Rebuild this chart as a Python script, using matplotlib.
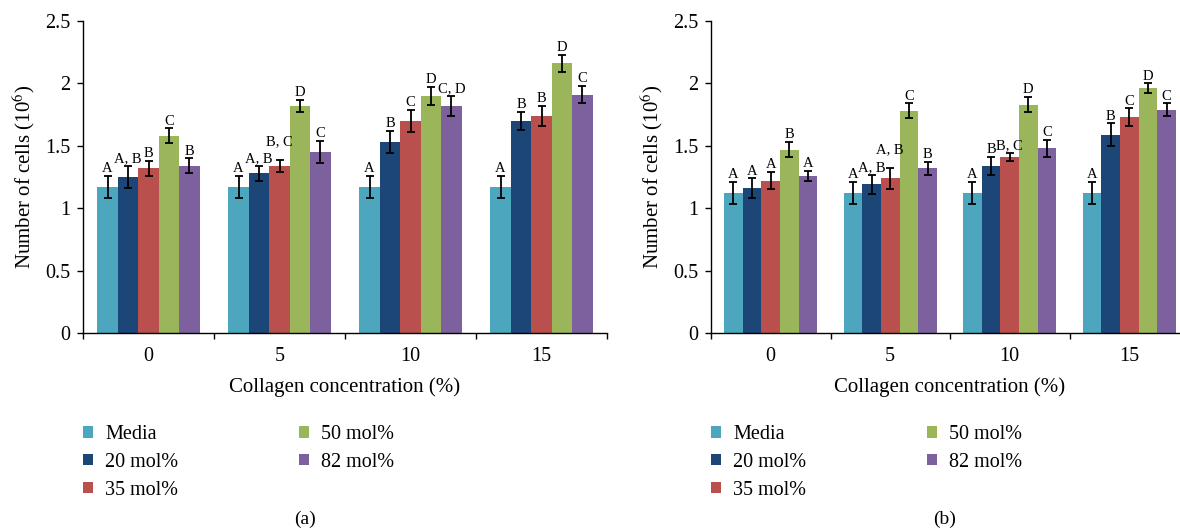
import numpy as np
import matplotlib
matplotlib.use("Agg")
import matplotlib.pyplot as plt

plt.rcParams["font.family"] = ["Liberation Serif", "DejaVu Serif"]
plt.rcParams["mathtext.fontset"] = "stix"

concentrations = ["0", "5", "10", "15"]
series = ["Media", "20 mol%", "35 mol%", "50 mol%", "82 mol%"]
colors = ["#4BA6BE", "#1C4678", "#B9504D", "#9BB65A", "#7D609E"]

# panel (a): one list per series, one value per collagen concentration
vals_a_media = [1.17, 1.17, 1.17, 1.17]
vals_a_20 = [1.25, 1.28, 1.53, 1.70]
vals_a_35 = [1.32, 1.34, 1.70, 1.74]
vals_a_50 = [1.58, 1.82, 1.90, 2.16]
vals_a_82 = [1.34, 1.45, 1.82, 1.91]
err_a_media = [0.09, 0.09, 0.09, 0.09]
err_a_20 = [0.09, 0.06, 0.09, 0.07]
err_a_35 = [0.06, 0.05, 0.09, 0.08]
err_a_50 = [0.06, 0.05, 0.07, 0.07]
err_a_82 = [0.06, 0.09, 0.08, 0.07]
lab_a_media = ["A", "A", "A", "A"]
lab_a_20 = ["A, B", "A, B", "B", "B"]
lab_a_35 = ["B", "B, C", "C", "B"]
lab_a_50 = ["C", "D", "D", "D"]
lab_a_82 = ["B", "C", "C, D", "C"]

# panel (b)
vals_b_media = [1.12, 1.12, 1.12, 1.12]
vals_b_20 = [1.16, 1.19, 1.34, 1.59]
vals_b_35 = [1.22, 1.24, 1.41, 1.73]
vals_b_50 = [1.47, 1.78, 1.83, 1.96]
vals_b_82 = [1.26, 1.32, 1.48, 1.79]
err_b_media = [0.09, 0.09, 0.09, 0.09]
err_b_20 = [0.08, 0.08, 0.07, 0.09]
err_b_35 = [0.07, 0.085, 0.03, 0.07]
err_b_50 = [0.06, 0.06, 0.06, 0.04]
err_b_82 = [0.04, 0.05, 0.07, 0.05]
lab_b_media = ["A", "A", "A", "A"]
lab_b_20 = ["A", "A, B", "B", "B"]
lab_b_35 = ["A", "A, B", "B, C", "C"]
lab_b_50 = ["B", "C", "D", "D"]
lab_b_82 = ["A", "B", "C", "C"]

panels = [
    ([vals_a_media, vals_a_20, vals_a_35, vals_a_50, vals_a_82],
     [err_a_media, err_a_20, err_a_35, err_a_50, err_a_82],
     [lab_a_media, lab_a_20, lab_a_35, lab_a_50, lab_a_82], "(a)"),
    ([vals_b_media, vals_b_20, vals_b_35, vals_b_50, vals_b_82],
     [err_b_media, err_b_20, err_b_35, err_b_50, err_b_82],
     [lab_b_media, lab_b_20, lab_b_35, lab_b_50, lab_b_82], "(b)"),
]

W, H = 1180, 530
fig = plt.figure(figsize=(W / 100, H / 100), dpi=100)

# axes boxes in pixels (left, right); right panel runs off the edge like the source
axes_px = [(83, 607), (711, 1189)]
letter_x = [305, 945]
bar_w = 0.156
fs = 14.5

for (vals, errs, labs, tag), (x0, x1), lx in zip(panels, axes_px, letter_x):
    ax = fig.add_axes([x0 / W, (H - 333) / H, (x1 - x0) / W, 312 / H])
    centers = np.arange(len(concentrations)) + 0.5
    for i, name in enumerate(series):
        xs = centers + (i - 2) * bar_w
        ax.bar(xs, vals[i], width=bar_w, color=colors[i], label=name, zorder=2)
        ax.errorbar(xs, vals[i], yerr=errs[i], fmt="none", ecolor="black",
                    elinewidth=1.3, capsize=2.6, capthick=1.3, zorder=3)
        for j, (x, v, e, t) in enumerate(zip(xs, vals[i], errs[i], labs[i])):
            dy = 0.5
            # two neighbouring "X, Y" labels at similar height: lift the second one
            if i > 0 and "," in t and "," in labs[i - 1][j] \
                    and abs((v + e) - (vals[i - 1][j] + errs[i - 1][j])) < 0.1:
                dy = 8
            ax.annotate(t, (x, v + e), xytext=(0, dy), textcoords="offset points",
                        ha="center", va="bottom", fontsize=10.5)

    ax.set_xlim(0, 4)
    ax.set_ylim(0, 2.5)
    ax.set_yticks([0, 0.5, 1, 1.5, 2, 2.5])
    ax.set_yticklabels(["0", "0.5", "1", "1.5", "2", "2.5"])
    ax.set_xticks(centers)
    ax.set_xticklabels(concentrations)
    ax.set_xticks([0, 1, 2, 3, 4], minor=True)
    ax.tick_params(axis="x", which="major", length=0, pad=10, labelsize=fs)
    ax.tick_params(axis="x", which="minor", length=4, width=1)
    ax.tick_params(axis="y", length=4, width=1, labelsize=fs, pad=5)
    for s in ["top", "right"]:
        ax.spines[s].set_visible(False)
    ax.spines["left"].set_linewidth(1)
    ax.spines["bottom"].set_linewidth(1)
    ax.set_ylabel("Number of cells (10$^6$)", fontsize=15, labelpad=6)
    ax.set_xlabel("Collagen concentration (%)", fontsize=15, labelpad=8)

    ax.legend(loc="upper left", bbox_to_anchor=(x0 / W, (H - 425) / H),
              bbox_transform=fig.transFigure, ncol=2, frameon=False,
              fontsize=fs, handlelength=0.5, handleheight=0.5,
              handletextpad=0.6, columnspacing=6.0, labelspacing=0.44,
              borderpad=0, borderaxespad=0)
    fig.text(lx / W, 2 / H, tag, ha="center", va="bottom", fontsize=14)

fig.savefig("out.png", dpi=100)
